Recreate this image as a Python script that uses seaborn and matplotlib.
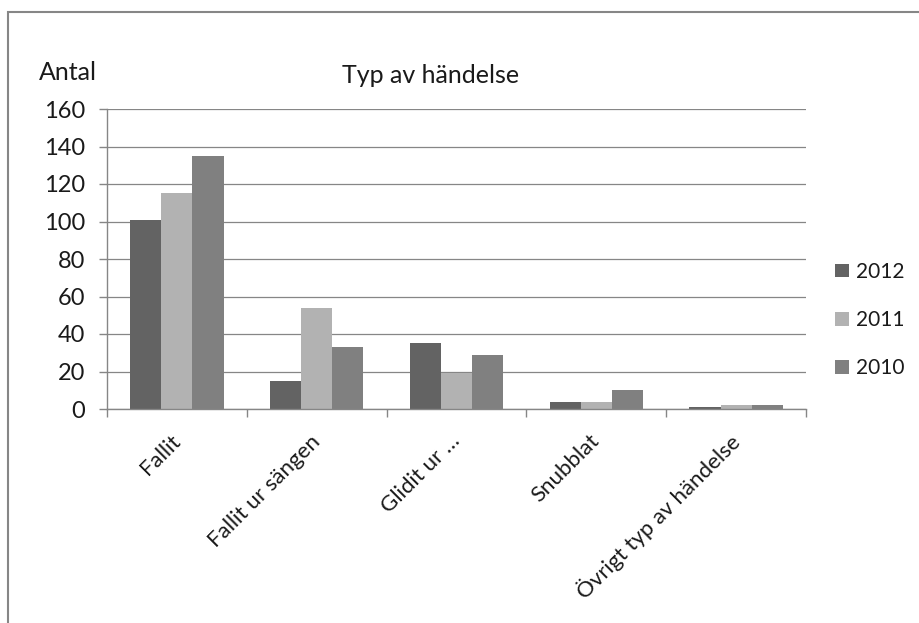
import matplotlib
matplotlib.use("Agg")
import matplotlib.pyplot as plt
import seaborn as sns
import pandas as pd
from matplotlib.patches import Rectangle

# Incident counts per event type and year
categories = ["Fallit", "Fallit ur sängen", "Glidit ur …", "Snubblat", "Övrigt typ av händelse"]
years = ["2012", "2011", "2010"]
values_2012 = [101, 15, 35, 4, 1]
values_2011 = [115, 54, 19, 4, 2]
values_2010 = [135, 33, 29, 10, 2]
y_ticks = [0, 20, 40, 60, 80, 100, 120, 140, 160]

df = pd.DataFrame({
    "Typ": categories * 3,
    "År": [years[0]] * 5 + [years[1]] * 5 + [years[2]] * 5,
    "Antal": values_2012 + values_2011 + values_2010,
})

palette = {"2012": "#636363", "2011": "#b2b2b2", "2010": "#808080"}

sns.set_theme(style="white")
plt.rcParams["font.family"] = ["Lato", "DejaVu Sans"]

W, H, DPI = 920, 623, 100
TXT = "#1a1a1a"
fig = plt.figure(figsize=(W / DPI, H / DPI), dpi=DPI)
ax = fig.add_axes([107 / W, 1 - 409 / H, (806 - 107) / W, (409 - 109) / H])

sns.barplot(data=df, x="Typ", y="Antal", hue="År", hue_order=years,
            palette=palette, width=0.667, gap=0, saturation=1,
            edgecolor="none", linewidth=0, ax=ax, legend=True)

ax.set_ylim(0, 160)
ax.set_xlim(-0.5, len(categories) - 0.5)
ax.set_yticks(y_ticks)
ax.set_yticklabels([str(v) for v in y_ticks], fontsize=17, color=TXT)
ax.yaxis.grid(True, color="#868686", linewidth=0.9)
ax.set_axisbelow(True)
ax.set_xlabel("")
ax.set_ylabel("")

for side in ["top", "right"]:
    ax.spines[side].set_visible(False)
for side in ["left", "bottom"]:
    ax.spines[side].set_color("#868686")
    ax.spines[side].set_linewidth(1)

# category separators as minor ticks on the x axis
ax.set_xticks([i - 0.5 for i in range(len(categories) + 1)], minor=True)
ax.set_xticks(range(len(categories)))
ax.set_xticklabels(categories, rotation=45, ha="right", va="center",
                   rotation_mode="anchor", fontsize=16, color=TXT)
ax.tick_params(axis="x", which="major", length=0, pad=21)
ax.tick_params(axis="x", which="minor", length=6, color="#868686", width=1, direction="out", bottom=True)
ax.tick_params(axis="y", length=6, color="#868686", width=1, direction="out", left=True, pad=10)

leg = ax.legend(loc="center left", bbox_to_anchor=(1.0296, 0.297), frameon=False,
                fontsize=15, handlelength=0.65, handleheight=0.65, handletextpad=0.35,
                labelspacing=1.35, borderaxespad=0)
for t in leg.get_texts():
    t.set_color(TXT)

fig.text(431 / W, 1 - 83 / H, "Typ av händelse", ha="center", va="baseline",
         fontsize=18, color=TXT)
fig.text(39 / W, 1 - 80 / H, "Antal", ha="left", va="baseline",
         fontsize=18, color=TXT)

# chart area border (open on the right and bottom)
fig.patches.append(Rectangle((8 / W, -0.1), 1.2, 1 - 12 / H + 0.1,
                             transform=fig.transFigure, fill=False,
                             edgecolor="#868686", linewidth=1.5))

fig.savefig("out.png", dpi=DPI)
